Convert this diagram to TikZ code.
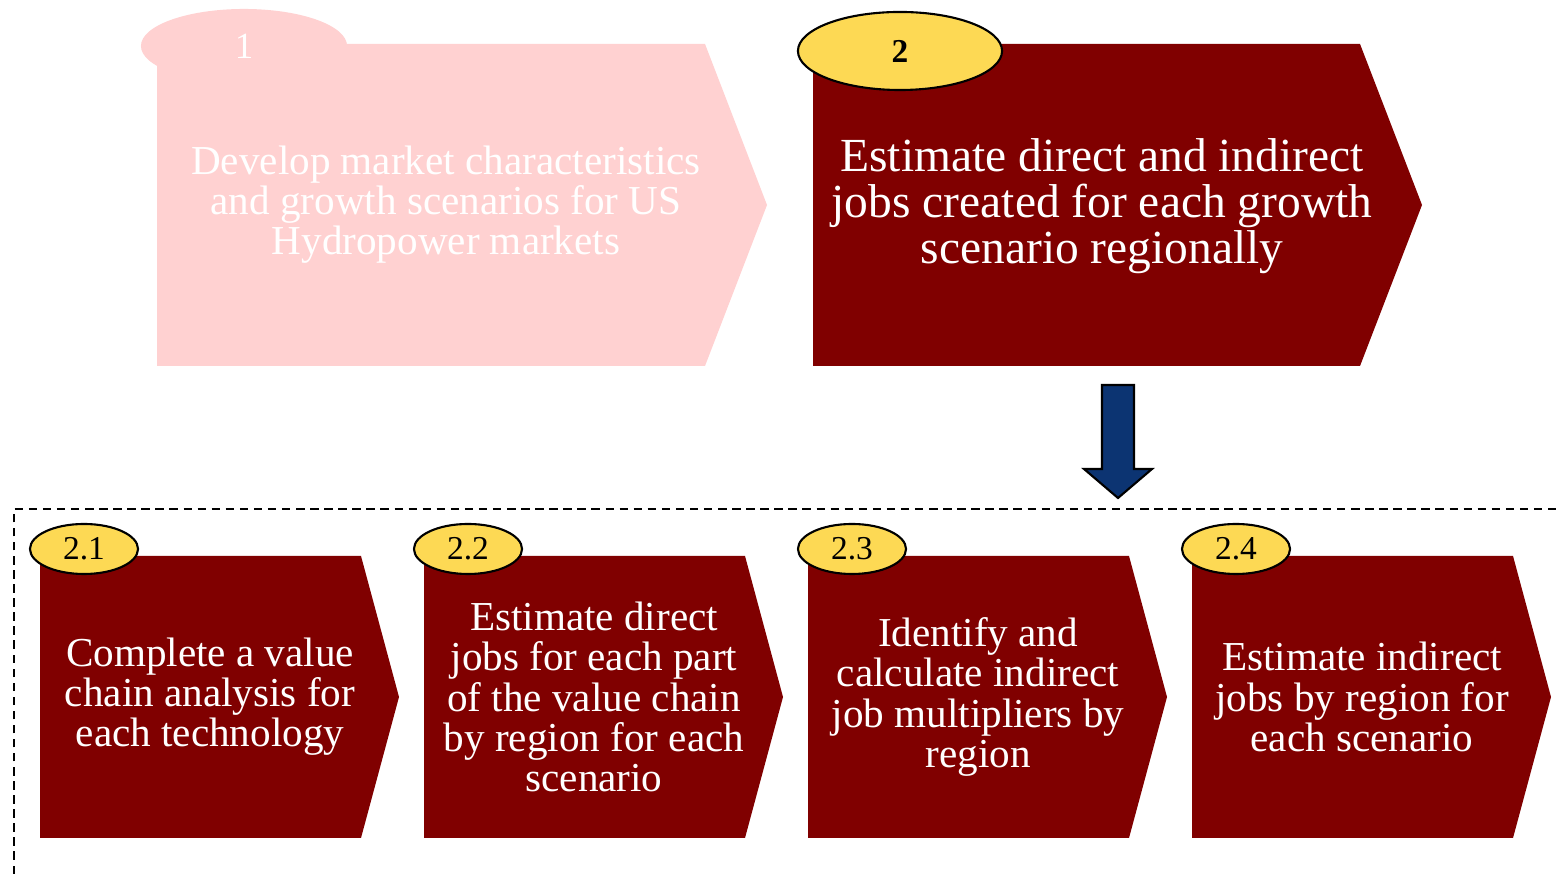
\documentclass[tikz,border=0pt]{standalone}
\usepackage{fontspec}
\setmainfont{Liberation Serif}
\usetikzlibrary{shapes.geometric}

\definecolor{stepRed}{RGB}{128,0,0}
\definecolor{stepPink}{RGB}{255,209,209}
\definecolor{badgeYellow}{RGB}{253,217,84}
\definecolor{arrowBlue}{RGB}{12,52,114}

\begin{document}
\begin{tikzpicture}
[x=0.01cm,y=-0.01cm,%
  stepDecorate/.style={fill=stepRed},%
  fadedDecorate/.style={fill=stepPink},%
  badgeDecorate/.style={shape=ellipse,draw,line width=0.6pt,fill=badgeYellow,
    inner sep=0pt,font=\fontsize{9.5}{10}\selectfont},%
  textDecorate/.style={text=white,align=center,inner sep=0pt,
    font=\fontsize{11.7}{11.4}\selectfont},%
  bigTextDecorate/.style={textDecorate,font=\fontsize{13.5}{13.1}\selectfont}]
\useasboundingbox (0,0) rectangle (1558,874);
%% top steps
\fill[fadedDecorate] (157,44) -- (705,44) -- (767,205) -- (705,366) -- (157,366) -- cycle;
\node[fadedDecorate,shape=ellipse,minimum width=2.06cm,minimum height=0.74cm,
  text=white,font=\fontsize{10.5}{11}\selectfont] (badge1) at (244,46) {1};
\node[textDecorate] (step1) at (446,205)
  {Develop market characteristics\\and growth scenarios for US\\Hydropower markets};
\fill[stepDecorate] (813,44) -- (1360,44) -- (1422,205) -- (1360,366) -- (813,366) -- cycle;
\node[badgeDecorate,minimum width=2.04cm,minimum height=0.78cm,
  font=\fontsize{9.5}{10}\selectfont\bfseries] (badge2) at (900,51) {2};
\node[bigTextDecorate] (step2) at (1102,206)
  {Estimate direct and indirect\\jobs created for each growth\\scenario regionally};
%% arrow down to the sub-steps
\draw[fill=arrowBlue,line width=0.6pt] (1102,385) -- (1134,385) -- (1134,469)
  -- (1152,469) -- (1118,498) -- (1084,469) -- (1102,469) -- cycle;
%% frame around the sub-steps
\draw[dash pattern=on 2.4pt off 1.6pt,line width=0.5pt] (14,874) -- (14,509) -- (1558,509);
%% sub-steps
\foreach \name/\x/\num/\txt in {
  a/40/2.1/{Complete a value\\chain analysis for\\each technology},
  b/424/2.2/{Estimate direct\\jobs for each part\\of the value chain\\by region for each\\scenario},
  c/808/2.3/{Identify and\\calculate indirect\\job multipliers by\\region},
  d/1192/2.4/{Estimate indirect\\jobs by region for\\each scenario}}
{
  \fill[stepDecorate] (\x,556) -- (\x+321,556) -- (\x+359,697) -- (\x+321,838)
    -- (\x,838) -- cycle;
  \node[textDecorate] (step\name) at (\x+170,697) {\txt};
  \node[badgeDecorate,minimum width=1.08cm,minimum height=0.5cm] (badge\name)
    at (\x+44,549) {\num};
}
\end{tikzpicture}
\end{document}
